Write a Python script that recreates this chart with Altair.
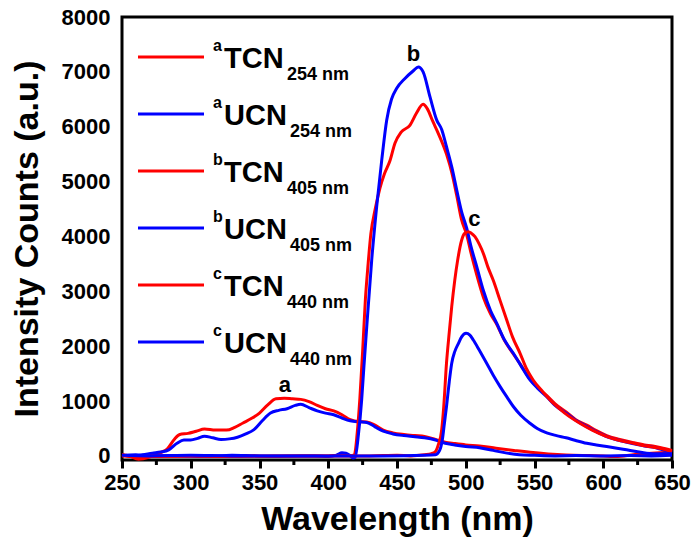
import altair as alt
import pandas as pd

# ---------------- data ----------------
series_names = ["aTCN254", "aUCN254", "bTCN405", "bUCN405", "cTCN440", "cUCN440"]
series_colors = ["#ff0000", "#0000ff", "#ff0000", "#0000ff", "#ff0000", "#0000ff"]

aTCN_wl = [250, 255, 262, 270, 278, 283, 288, 292, 298, 304, 310, 318, 326, 332, 338, 344, 350, 356, 362,
           368, 374, 380, 386, 392, 398, 404, 410, 416, 422, 428, 434, 440, 447, 455, 463, 470, 478, 485,
           492, 500, 510, 522, 535, 549, 560, 573, 590, 600, 607, 615, 625, 635, 645, 650]
aTCN_val = [20, 0, -60, -20, 60, 130, 300, 390, 410, 450, 490, 470, 470, 520, 600, 680, 780, 930, 1040,
            1050, 1040, 1030, 990, 920, 860, 820, 750, 660, 625, 620, 560, 470, 420, 390, 370, 355, 300, 250,
            225, 200, 180, 140, 100, 60, 35, 15, 5, 0, -10, 0, 30, 50, 60, 60]

aUCN_wl = [250, 258, 265, 272, 278, 284, 290, 295, 300, 305, 310, 316, 322, 328, 334, 340, 346, 352, 358,
           364, 370, 376, 380, 386, 392, 398, 404, 410, 416, 422, 428, 434, 440, 447, 455, 463, 470, 478,
           485, 492, 500, 510, 520, 530, 539, 550, 565, 580, 600, 620, 635, 650]
aUCN_val = [10, 0, 20, 50, 70, 110, 230, 290, 290, 320, 360, 330, 300, 310, 340, 400, 480, 640, 780,
            830, 860, 920, 940, 880, 820, 780, 750, 690, 640, 620, 610, 530, 450, 400, 370, 350, 330, 290,
            230, 200, 170, 150, 100, 50, 20, 10, 0, 5, 0, 5, 0, 10]

bTCN_wl = [250, 260, 270, 285, 300, 320, 340, 360, 380, 400, 410, 416, 419, 421, 423, 425, 427, 429, 431,
           434, 437.6, 441, 445, 448.5, 453, 459.5, 464, 469, 472, 476, 480, 486, 490, 493.4, 497, 500.7,
           504, 508, 513, 518, 522.5, 528, 534.6, 540, 546.7, 552, 558.9, 565, 573, 580, 588, 595, 602.5,
           612, 622, 630, 636, 642, 650]
bTCN_val = [20, -20, 0, 0, 0, -10, 0, -10, 0, 0, 10, 5, 20, 400, 1050, 1900, 2850, 3500, 4050,
            4480, 4880, 5150, 5390, 5700, 5900, 6030, 6240, 6410, 6330, 6100, 5880, 5500, 5150, 4750, 4300,
            4030, 3680, 3300, 2880, 2590, 2400, 2110, 1860, 1660, 1400, 1250, 1100, 950, 800, 660, 560, 460,
            370, 300, 240, 200, 180, 150, 100]

bUCN_wl = [250, 260, 270, 290, 310, 330, 350, 370, 390, 400, 406, 410, 413, 416, 418, 419.5, 422, 424.3,
           426, 428, 431.6, 435.2, 438.9, 442.5, 446, 449.8, 455.8, 461.9, 465.5, 469, 474, 478.9, 482.5,
           486, 490, 493.4, 497, 500.7, 504, 508, 513, 518, 522.5, 528, 534.6, 540, 546.7, 552, 558.9, 565,
           573, 580, 588, 595, 602.5, 612, 622, 630, 636, 642, 650]
bUCN_val = [0, 20, 0, 0, -10, 10, 0, 0, 0, -10, 15, 55, 50, 0, -40, -30, 400, 1020,
            1650, 2355, 3570, 4540, 5390, 6120, 6500, 6700, 6880, 7020, 7090, 7000, 6545, 6120, 5950,
            5635, 5250, 4850, 4450, 4150, 3800, 3450, 3000, 2650, 2420, 2120, 1870, 1650, 1384, 1240, 1080,
            920, 777, 650, 534, 440, 352, 280, 220, 180, 160, 120, 60]

cTCN_wl = [250, 270, 300, 330, 360, 400, 430, 450, 460, 470, 475, 478, 480, 482.5, 484, 486, 488, 489.8,
           492, 494, 497, 499, 501.9, 504, 506.7, 510, 512.8, 516, 520, 525, 529.8, 534, 539.5, 544, 549,
           556, 563.7, 572, 583, 592, 602.5, 612, 621.9, 631, 641, 650]
cTCN_val = [0, -10, 0, -10, 0, 0, 0, 10, 0, 20, 40, 80, 200, 475, 900, 1690, 2250, 2720,
            3200, 3550, 3930, 4050, 4085, 4060, 3995, 3850, 3690, 3450, 3200, 2830, 2477, 2170, 1870, 1600,
            1384, 1170, 960, 780, 595, 470, 352, 280, 230, 180, 140, 80]

cUCN_wl = [250, 270, 300, 330, 360, 400, 440, 470, 478, 481, 483, 484.5, 486, 488, 489.8, 492, 494.7, 497,
           500.2, 503, 505.5, 510, 515.2, 520, 525, 530, 534.6, 540, 546.7, 552, 558.9, 566, 573, 580, 588,
           595, 602.5, 610, 617, 624, 631.6, 640, 650]
cUCN_val = [10, 0, 10, 0, 0, 0, 0, 10, 20, 100, 300, 600, 900, 1350, 1690, 1900, 2050, 2170,
            2235, 2200, 2113, 1920, 1690, 1470, 1263, 1070, 900, 740, 595, 500, 420, 370, 330, 280, 230,
            200, 170, 140, 110, 80, 50, 40, 40]

# legend text pieces
leg_sup = ["a", "a", "b", "b", "c", "c"]
leg_name = ["TCN", "UCN", "TCN", "UCN", "TCN", "UCN"]
leg_sub = ["254 nm", "254 nm", "405 nm", "405 nm", "440 nm", "440 nm"]

# peak annotations
ann_text = ["a", "b", "c"]
ann_wl = [368.5, 462, 506.3]
ann_val = [1300, 7330, 4310]

x_ticks = [250, 300, 350, 400, 450, 500, 550, 600, 650]
x_minor = [275, 325, 375, 425, 475, 525, 575, 625]
y_ticks = [0, 1000, 2000, 3000, 4000, 5000, 6000, 7000, 8000]

# ---------------- build ----------------
FONT = "Liberation Sans"
W, H = 550, 443
Y_MIN, Y_MAX = -75, 8000

all_wl = [aTCN_wl, aUCN_wl, bTCN_wl, bUCN_wl, cTCN_wl, cUCN_wl]
all_val = [aTCN_val, aUCN_val, bTCN_val, bUCN_val, cTCN_val, cUCN_val]
rows = []
for k, (name, wl, val) in enumerate(zip(series_names, all_wl, all_val)):
    for w, v in zip(wl, val):
        rows.append({"wl": w, "val": v, "series": name})
df = pd.DataFrame(rows)

xscale = alt.Scale(domain=[250, 650], nice=False, zero=False)
yscale = alt.Scale(domain=[Y_MIN, Y_MAX], nice=False, zero=False)

x_axis = alt.Axis(values=x_ticks, format="d", title="Wavelength (nm)", labelFont=FONT, labelFontSize=22,
                  labelFontWeight="bold", labelColor="black", labelPadding=4, labelFlush=False,
                  labelOverlap=False, tickSize=8, tickWidth=3,
                  tickColor="black", domain=False, grid=False, titleFont=FONT, titleFontSize=34,
                  titleFontWeight="bold", titleColor="black", titlePadding=9)
y_axis = alt.Axis(values=y_ticks, format="d", title="Intensity Counts (a.u.)", labelFont=FONT, labelFontSize=22,
                  labelFontWeight="bold", labelColor="black", labelPadding=12, labelFlush=False,
                  labelOverlap=False, ticks=False, tickSize=0,
                  domain=False, grid=False, titleFont=FONT, titleFontSize=34, titleFontWeight="bold",
                  titleColor="black", titlePadding=17)

color_enc = alt.Color("series:N", scale=alt.Scale(domain=series_names, range=series_colors), legend=None)

lines = alt.Chart(df).mark_line(strokeWidth=3, interpolate="monotone").encode(
    x=alt.X("wl:Q", scale=xscale, axis=x_axis),
    y=alt.Y("val:Q", scale=yscale, axis=y_axis),
    color=color_enc,
    order=alt.Order("wl:Q"),
)

minor = alt.Chart(pd.DataFrame({"wl": x_minor})).mark_rule(strokeWidth=3, color="black").encode(
    x=alt.X("wl:Q", scale=xscale),
    y=alt.value(H),
    y2=alt.value(H + 5),
)

ann = alt.Chart(pd.DataFrame({"t": ann_text, "wl": ann_wl, "val": ann_val})).mark_text(
    font=FONT, fontSize=22, fontWeight="bold", color="black", baseline="middle", align="center"
).encode(x=alt.X("wl:Q", scale=xscale), y=alt.Y("val:Q", scale=yscale), text="t:N")

# legend rows, placed in the plot's upper left corner
row_px = [40 + 57 * i for i in range(len(leg_name))]
leg = pd.DataFrame({
    "sup": leg_sup, "name": leg_name, "sub": leg_sub,
    "series": series_names,
    "ly": [Y_MAX - p * (Y_MAX - Y_MIN) / H for p in row_px],
})

leg_lines = alt.Chart(leg).mark_rule(strokeWidth=3).encode(
    x=alt.value(16), x2=alt.value(82),
    y=alt.Y("ly:Q", scale=yscale),
    color=color_enc,
)
leg_sup_t = alt.Chart(leg).mark_text(font=FONT, fontSize=16, fontWeight="bold", color="black",
                                     align="left", baseline="alphabetic", dy=-6).encode(
    x=alt.value(91), y=alt.Y("ly:Q", scale=yscale), text="sup:N")
leg_name_t = alt.Chart(leg).mark_text(font=FONT, fontSize=29, fontWeight="bold", color="black",
                                      align="left", baseline="alphabetic", dy=11).encode(
    x=alt.value(102), y=alt.Y("ly:Q", scale=yscale), text="name:N")
leg_sub_tcn = alt.Chart(leg).transform_filter(alt.datum.name == "TCN").mark_text(
    font=FONT, fontSize=18, fontWeight="bold", color="black", align="left", baseline="alphabetic", dy=23
).encode(x=alt.value(165), y=alt.Y("ly:Q", scale=yscale), text="sub:N")
leg_sub_ucn = alt.Chart(leg).transform_filter(alt.datum.name == "UCN").mark_text(
    font=FONT, fontSize=18, fontWeight="bold", color="black", align="left", baseline="alphabetic", dy=23
).encode(x=alt.value(168), y=alt.Y("ly:Q", scale=yscale), text="sub:N")

chart = alt.layer(
    lines, minor, ann, leg_lines, leg_sup_t, leg_name_t, leg_sub_tcn, leg_sub_ucn
).properties(
    width=W, height=H,
    padding={"left": 122, "top": 17, "right": 22, "bottom": 82},
    autosize="none",
    background="white",
).configure_view(stroke="black", strokeWidth=3)

chart.save("out.html", embed_options={"renderer": "svg", "actions": False})
